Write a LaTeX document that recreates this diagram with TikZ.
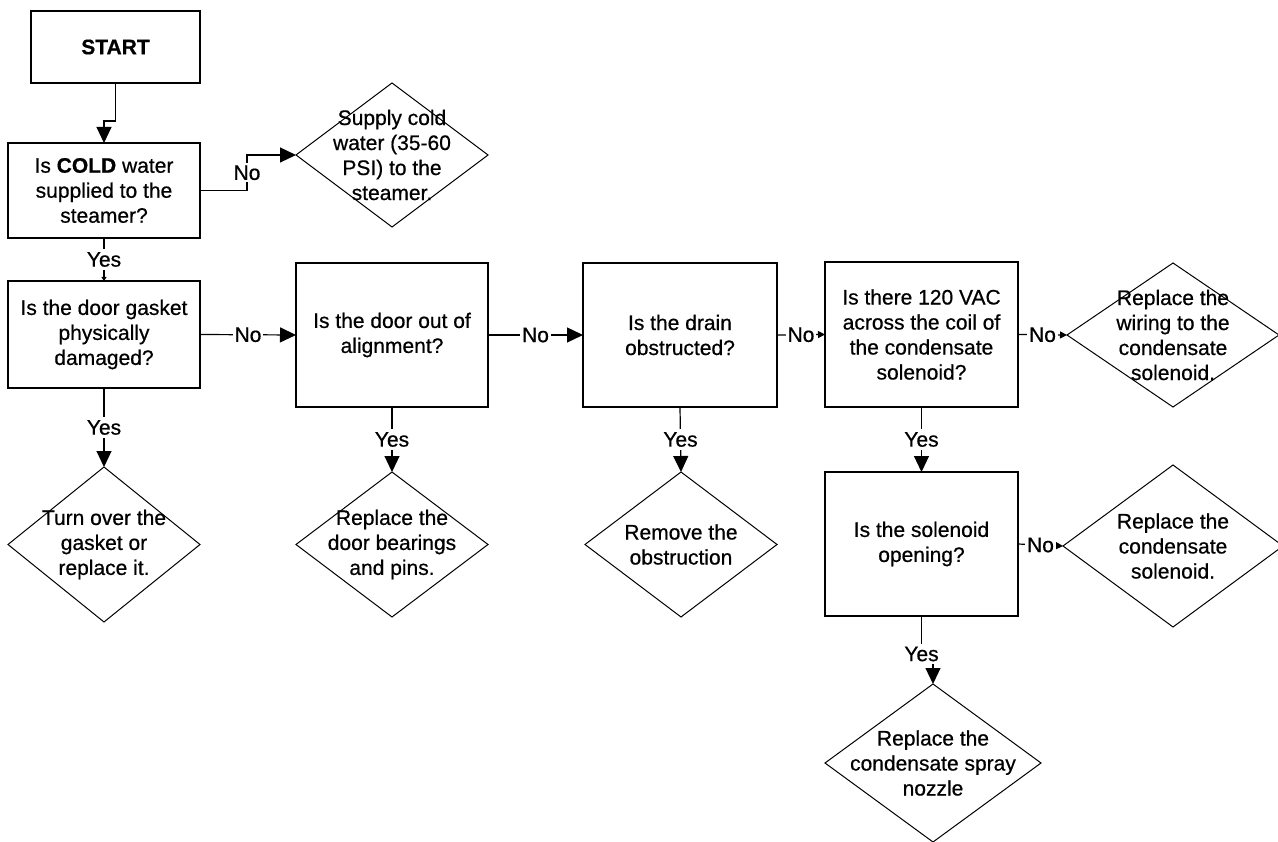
\documentclass[tikz,border=0pt]{standalone}
\usepackage{fontspec}
\setmainfont[FakeBold=0.6]{Liberation Sans}
\usetikzlibrary{shapes.geometric,arrows.meta}
\tikzset{
  every node/.style={font=\fontsize{21}{25}\selectfont},
  box/.style={draw, line width=1.4pt, rectangle, align=center, inner sep=0pt, outer sep=0pt},
  dia/.style={draw, line width=1pt, diamond, inner sep=0pt, outer sep=0pt},
  txt/.style={align=center, inner sep=0pt},
  lbl/.style={fill=white, inner sep=2pt},
  conn/.style={line width=1.2pt},
  bigarr/.style={conn, -{Triangle[length=16pt,width=15pt]}},
  smallarr/.style={conn, -{Triangle[length=7pt,width=7pt]}},
  tinyarr/.style={conn, -{Triangle[length=4pt,width=5pt]}}
}
\begin{document}
\begin{tikzpicture}[x=1pt,y=-1pt]
\useasboundingbox (0,0) rectangle (1278,842);
% boxes
\node[box, minimum width=169pt, minimum height=72pt] (start) at (115.5,47) {\textbf{START}};
\node[box, minimum width=192pt, minimum height=95pt] (q1) at (104,190.5) {Is \textbf{COLD} water\\supplied to the\\steamer?};
\node[box, minimum width=192pt, minimum height=107pt] (q2) at (104,334.5) {Is the door gasket\\physically\\damaged?};
\node[box, minimum width=192pt, minimum height=144pt] (q3) at (392,335) {Is the door out of\\alignment?};
\node[box, minimum width=194pt, minimum height=144pt] (q4) at (680,335) {Is the drain\\obstructed?};
\node[box, minimum width=193pt, minimum height=145pt] (q5) at (921.5,334.5) {Is there 120 VAC\\across the coil of\\the condensate\\solenoid?};
\node[box, minimum width=193pt, minimum height=144pt] (q6) at (921.5,544) {Is the solenoid\\opening?};
% diamonds
\node[dia, minimum width=192pt, minimum height=144pt] (d1) at (392,155) {};
\node[txt] (d1t) at (d1.center) {Supply cold\\water (35-60\\PSI) to the\\steamer.};
\node[dia, minimum width=192pt, minimum height=155pt] (d2) at (104,544.5) {};
\node[txt] (d2t) at (d2.center) {Turn over the\\gasket or\\replace it.};
\node[dia, minimum width=192pt, minimum height=145pt] (d3) at (392,544.5) {};
\node[txt] (d3t) at (d3.center) {Replace the\\door bearings\\and pins.};
\node[dia, minimum width=192pt, minimum height=145pt] (d4) at (681,544.5) {};
\node[txt] (d4t) at (d4.center) {Remove the\\obstruction};
\node[dia, minimum width=212pt, minimum height=144pt] (d5) at (1173,335) {};
\node[txt] (d5t) at (d5.center) {Replace the\\wiring to the\\condensate\\solenoid.};
\node[dia, minimum width=220pt, minimum height=162pt] (d6) at (1173,546) {};
\node[txt] (d6t) at (d6.center) {Replace the\\condensate\\solenoid.};
\node[dia, minimum width=216pt, minimum height=158pt] (d7) at (933,763) {};
\node[txt] (d7t) at (d7.center) {Replace the\\condensate spray\\nozzle};
% connectors
\draw[bigarr] (start.south) -- ++(0,38) -| (q1.north);
\draw[bigarr] (q1.east) -- ++(47,0) |- node[lbl, pos=0.25] {No} (d1.west);
\draw[tinyarr] (q1.south) -- node[lbl, inner sep=3pt] {Yes} (q2.north);
\draw[bigarr] (q2.east) -- node[lbl] {No} (q3.west);
\draw[bigarr] (q3.east) -- node[lbl] {No} (q4.west);
\draw[smallarr] (q4.east) -- node[lbl] {No} (q5.west);
\draw[smallarr] (q5.east) -- node[lbl] {No} (d5.west);
\draw[smallarr] (q6.east) -- node[lbl] {No} (d6.west);
\draw[bigarr] (q2.south) -- node[lbl, inner sep=3pt] {Yes} (d2.north);
\draw[bigarr] (q3.south) -- node[lbl, inner sep=3pt] {Yes} (d3.north);
\draw[bigarr] (q4.south) -- node[lbl, inner sep=3pt] {Yes} (d4.north);
\draw[bigarr] (q5.south) -- node[lbl, inner sep=3pt] {Yes} (q6.north);
\draw[bigarr] (q6.south) -- ++(0,38) node[lbl, inner sep=3pt] {Yes} -| (d7.north);
\end{tikzpicture}
\end{document}
